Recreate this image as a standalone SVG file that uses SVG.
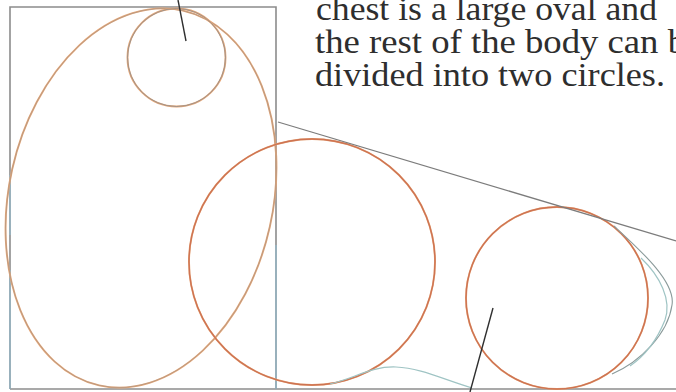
<svg xmlns="http://www.w3.org/2000/svg" width="676" height="392" viewBox="0 0 676 392">
  <style>
    .caption { font-family: "Liberation Serif", "Times New Roman", serif; font-size: 33px; fill: #2e2e2e; }
    .frame { fill: none; stroke: #8c8c8c; stroke-width: 1.6; }
    .tint { fill: none; stroke: #8fc0d8; stroke-width: 1.2; opacity: 0.8; }
    .pencil-o { fill: none; stroke: #e6a676; stroke-width: 1.9; }
    .pencil-g { fill: none; stroke: #8e8e8e; stroke-width: 0.8; opacity: 0.55; }
    .pencil-r { fill: none; stroke: #c8664a; stroke-width: 1.4; opacity: 0.8; }
    .guide { fill: none; stroke: #7c7c7c; stroke-width: 1.3; }
    .soft { fill: none; stroke: #9fc4c4; stroke-width: 1.2; }
    .leader { fill: none; stroke: #2f2f2f; stroke-width: 1.4; }
  </style>

  <!-- caption text -->
  <g id="caption">
    <text class="caption" x="316" y="20" textLength="341" lengthAdjust="spacingAndGlyphs">chest is a large oval and</text>
    <text class="caption" x="315" y="53" textLength="371" lengthAdjust="spacingAndGlyphs">the rest of the body can b</text>
    <text class="caption" x="315" y="86" textLength="350" lengthAdjust="spacingAndGlyphs">divided into two circles.</text>
  </g>

  <!-- bounding box of the chest, with ground line -->
  <g id="frame">
    <path class="frame" d="M10 389 L10 7 L276 7 L276 389"/>
    <line class="frame" x1="10" y1="389" x2="676" y2="389"/>
    <line class="tint" x1="10" y1="175" x2="10" y2="235"/>
    <line class="tint" x1="10" y1="270" x2="10" y2="389"/>
    <line class="tint" x1="276" y1="245" x2="276" y2="389"/>
  </g>

  <!-- large chest oval -->
  <g id="chest">
    <ellipse class="pencil-o" cx="141" cy="198" rx="132" ry="192" transform="rotate(12.6 141 198)"/>
    <ellipse class="pencil-g" cx="141" cy="198" rx="132" ry="192" transform="rotate(12.6 141 198)"/>
  </g>

  <!-- head circle -->
  <g id="head">
    <circle class="pencil-o" cx="176.5" cy="57.5" r="49" stroke-width="1.4"/>
    <circle class="pencil-g" cx="176.5" cy="57.5" r="49" style="opacity:0.8;stroke-width:1"/>
  </g>

  <!-- middle body circle -->
  <g id="body">
    <circle class="pencil-o" cx="312" cy="262" r="123"/>
    <circle class="pencil-r" cx="312" cy="262" r="123"/>
  </g>

  <!-- hindquarter circle -->
  <g id="hip">
    <circle class="pencil-o" cx="557" cy="298" r="91" stroke-width="2.2"/>
    <circle class="pencil-r" cx="557" cy="298" r="91"/>
  </g>

  <!-- guide lines and leaders -->
  <g id="connectors">
    <line class="guide" x1="278" y1="122" x2="676" y2="241"/>
    <path class="soft" d="M330 384 C355 378 372 366 396 367 C420 368 440 378 472 388" stroke="#9ab6b6"/>
    <path class="guide" d="M614 226 C640 250 676 282 672 305 C668 334 640 362 612 374" style="stroke:#8a9a9a;stroke-width:1.1"/>
    <path class="soft" d="M641 258 C660 276 672 300 665 320 C657 340 646 355 630 366"/>
    <line class="leader" x1="178" y1="0" x2="186" y2="41"/>
    <line class="leader" x1="493" y1="308" x2="470" y2="392"/>
  </g>
</svg>
